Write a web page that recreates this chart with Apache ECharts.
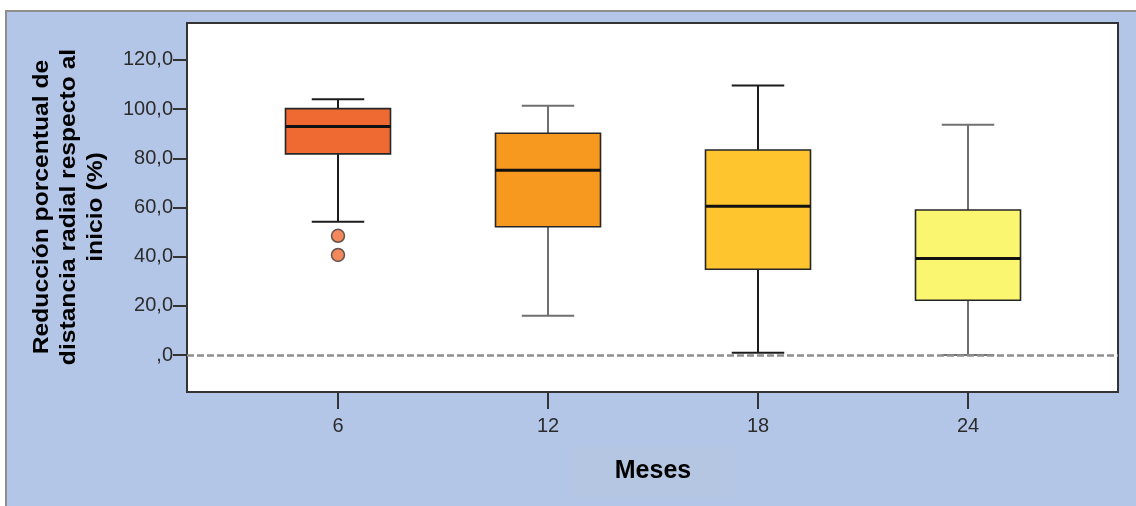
<!DOCTYPE html>
<html>
<head>
<meta charset="utf-8">
<script src="https://cdn.jsdelivr.net/npm/echarts@6/dist/echarts.min.js"></script>
<style>
  html, body { margin: 0; padding: 0; background: #ffffff; }
  #panel {
    position: absolute; left: 5px; top: 10px; width: 1131px; height: 496px;
    background: #b3c6e8; border-top: 2px solid #8e8e8e; border-left: 2px solid #8e8e8e;
    box-sizing: border-box;
  }
  #chart { position: absolute; left: 0; top: 0; width: 1136px; height: 506px; }
</style>
</head>
<body>
<div id="panel"></div>
<div id="chart"></div>
<script>
// Months after treatment (x categories)
const months = ['6', '12', '18', '24'];

// Box statistics per month (% reduction of radial distance from baseline)
const lowerWhisker = [54.2, 16.0, 1.0, 0.0];
const quartile1    = [81.8, 52.2, 34.9, 22.3];
const medians      = [92.9, 75.1, 60.5, 39.3];
const quartile3    = [100.2, 90.2, 83.4, 59.0];
const upperWhisker = [104.0, 101.4, 109.6, 93.6];

// Outliers at 6 months
const outlierValues = [48.5, 40.7];

// Y-axis tick labels and range
const yTicks = [0, 20, 40, 60, 80, 100, 120];
const Y_MIN = -15;
const Y_MAX = 135;

const boxColors = ['#ef6a33', '#f7991f', '#fec52f', '#fbf670'];
const whiskerColors = ['#1c1c1c', '#707070', '#1c1c1c', '#707070'];

const FONT = '"Liberation Sans", Arial, sans-serif';

const boxData = months.map((m, i) => [i, lowerWhisker[i], quartile1[i], medians[i], quartile3[i], upperWhisker[i]]);
const outlierData = outlierValues.map(v => [0, v]);
// Month tick anchors on the bottom edge of the frame
const monthTickData = months.map((m, i) => [i, Y_MIN]);

function renderBox(params, api) {
  const idx = api.value(0);
  const band = api.size([1, 0])[0];
  const boxW = band * 0.5;
  const capW = band * 0.25;
  const pLo = api.coord([idx, api.value(1)]);
  const pQ1 = api.coord([idx, api.value(2)]);
  const pMed = api.coord([idx, api.value(3)]);
  const pQ3 = api.coord([idx, api.value(4)]);
  const pHi = api.coord([idx, api.value(5)]);
  const cx = pLo[0];
  const wc = whiskerColors[params.dataIndex];
  const wStyle = { stroke: wc, lineWidth: 2 };
  return {
    type: 'group',
    children: [
      { type: 'line', shape: { x1: cx, y1: pHi[1], x2: cx, y2: pQ3[1] }, style: wStyle },
      { type: 'line', shape: { x1: cx, y1: pQ1[1], x2: cx, y2: pLo[1] }, style: wStyle },
      { type: 'line', shape: { x1: cx - capW / 2, y1: pHi[1], x2: cx + capW / 2, y2: pHi[1] }, style: wStyle },
      { type: 'line', shape: { x1: cx - capW / 2, y1: pLo[1], x2: cx + capW / 2, y2: pLo[1] }, style: wStyle },
      { type: 'rect', shape: { x: cx - boxW / 2, y: pQ3[1], width: boxW, height: pQ1[1] - pQ3[1] },
        style: { fill: boxColors[params.dataIndex], stroke: '#262626', lineWidth: 1.6 } },
      { type: 'line', shape: { x1: cx - boxW / 2, y1: pMed[1], x2: cx + boxW / 2, y2: pMed[1] },
        style: { stroke: '#111111', lineWidth: 3 } }
    ]
  };
}

const titleGraphic = {
  type: 'text', x: 69, y: 207, rotation: Math.PI / 2, scaleX: 1.12,
  style: {
    text: 'Reducción porcentual de\ndistancia radial respecto al\ninicio (%)',
    font: 'bold 22px ' + FONT, fill: '#000000',
    align: 'center', verticalAlign: 'middle', lineHeight: 27
  }
};

const chart = echarts.init(document.getElementById('chart'), null, { renderer: 'canvas' });

chart.setOption({
  backgroundColor: 'transparent',
  animation: false,
  grid: [
    { left: 187, top: 23, width: 931, height: 369, show: true, backgroundColor: '#ffffff',
      borderColor: '#333333', borderWidth: 2 },
    { left: 233, top: 23, width: 840, height: 369 }
  ],
  xAxis: [
    { gridIndex: 0, type: 'value', min: 0, max: 1, show: false },
    {
      gridIndex: 1, type: 'category', data: months, position: 'bottom',
      axisLine: { show: false, onZero: false },
      axisTick: { show: false },
      axisLabel: { margin: 24, color: '#2b2b2b', fontSize: 20, fontFamily: FONT },
      name: 'Meses', nameLocation: 'middle', nameGap: 55,
      nameTextStyle: {
        fontSize: 25, fontWeight: 'bold', color: '#000000', fontFamily: FONT,
        backgroundColor: '#b4c6e1', padding: [12, 44, 13, 44]
      }
    }
  ],
  yAxis: [
    {
      gridIndex: 0, type: 'value', min: Y_MIN, max: Y_MAX,
      splitLine: { show: false },
      axisLine: { show: true, lineStyle: { color: '#333333', width: 2 } },
      axisTick: { show: true, length: 14, customValues: yTicks, lineStyle: { color: '#333333', width: 2 } },
      axisLabel: {
        customValues: yTicks, margin: 14, color: '#2b2b2b', fontSize: 20, fontFamily: FONT,
        formatter: v => (v === 0 ? ',0' : v.toFixed(1).replace('.', ','))
      }
    },
    { gridIndex: 1, type: 'value', min: Y_MIN, max: Y_MAX, show: false }
  ],
  series: [
    {
      type: 'line', xAxisIndex: 0, yAxisIndex: 0, data: [], silent: true,
      markLine: {
        silent: true, symbol: 'none', label: { show: false },
        lineStyle: { type: [7, 3], color: '#8f8f8f', width: 2.5 },
        data: [{ yAxis: 0 }]
      }
    },
    {
      type: 'custom', xAxisIndex: 1, yAxisIndex: 1, data: boxData, renderItem: renderBox,
      clip: false, z: 3
    },
    {
      type: 'scatter', xAxisIndex: 1, yAxisIndex: 1, data: outlierData, symbolSize: 13, z: 4,
      itemStyle: { color: boxColors[0], borderColor: '#3a3a3a', borderWidth: 1.5 }
    },
    {
      // short tick marks hanging under each month
      type: 'scatter', xAxisIndex: 1, yAxisIndex: 1, data: monthTickData, clip: false, silent: true,
      symbol: 'rect', symbolSize: [2, 16], symbolOffset: [0, 9], z: 20,
      itemStyle: { color: '#333333', opacity: 1 }
    }
  ]
});

// Month ticks hanging below the frame, placed through the month axis scale
const monthTicks = months.map((m, i) => {
  const p = chart.convertToPixel({ gridIndex: 1 }, [i, Y_MIN]);
  return {
    type: 'line', z: 100,
    shape: { x1: p[0], y1: p[1] + 1, x2: p[0], y2: p[1] + 17 },
    style: { stroke: '#333333', lineWidth: 2 }
  };
});

chart.setOption({ graphic: [titleGraphic].concat(monthTicks) });
</script>
</body>
</html>
